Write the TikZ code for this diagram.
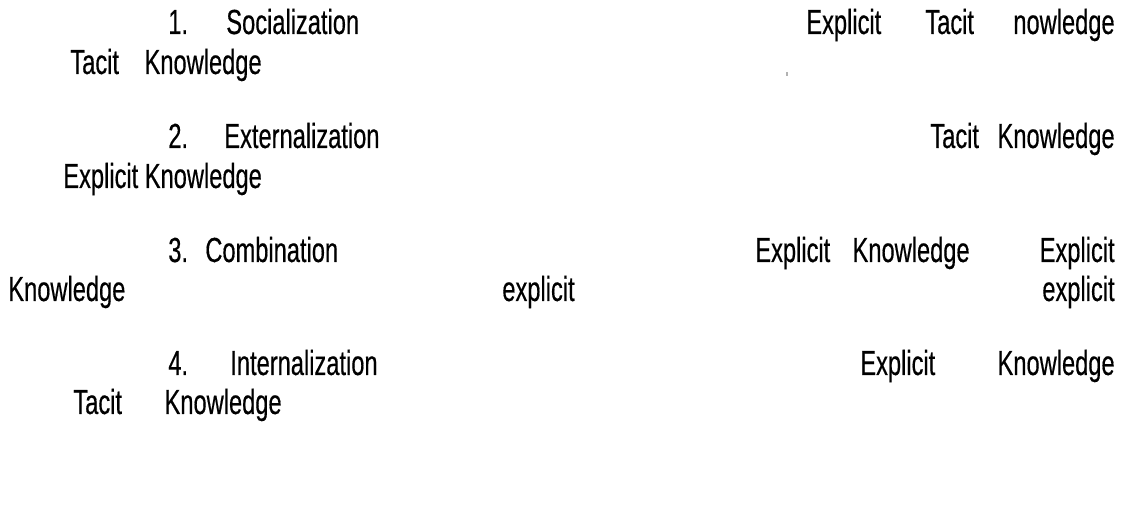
\documentclass[tikz,border=0pt]{standalone}
\usepackage{fontspec}
\setmainfont[FakeStretch=0.68,FakeBold=0.4]{Liberation Sans}
\usepackage{tikz}
\newcommand{\entryfont}{\fontsize{19.8}{24}\selectfont}
\tikzset{word/.style={anchor=base west, inner sep=0pt, font=\entryfont},
         wordr/.style={anchor=base east, inner sep=0pt, font=\entryfont}}

\begin{document}
\begin{tikzpicture}[x=0.02cm, y=-0.02cm]
    \path[use as bounding box] (0, 0) rectangle (1130, 516);

    % 1. Socialization
    \node[word] at (168, 34) (n1) {1.};
    \node[word] at (226, 34) (soc) {Socialization};
    \node[word] at (806, 34) (soce) {Explicit};
    \node[word] at (925, 34) (soct) {Tacit};
    \node[wordr] at (1115, 34) (sock) {nowledge};
    \node[word] at (70, 74) (soct2) {Tacit};
    \node[wordr] at (262, 74) (sock2) {Knowledge};
    \fill[gray!60] (786, 72) rectangle (788, 76);

    % 2. Externalization
    \node[word] at (168, 148) (n2) {2.};
    \node[word] at (224, 148) (ext) {Externalization};
    \node[word] at (930, 148) (extt) {Tacit};
    \node[wordr] at (1115, 148) (extk) {Knowledge};
    \node[word] at (63, 188) (extek) {Explicit Knowledge};

    % 3. Combination
    \node[word] at (168, 262) (n3) {3.};
    \node[word] at (205, 262) (com) {Combination};
    \node[word] at (755, 262) (come) {Explicit};
    \node[wordr] at (970, 262) (comk) {Knowledge};
    \node[wordr] at (1115, 262) (come2) {Explicit};
    \node[word] at (8, 301) (comk2) {Knowledge};
    \node[word] at (502, 301) (comx) {explicit};
    \node[wordr] at (1115, 301) (comx2) {explicit};

    % 4. Internalization
    \node[word] at (168, 375) (n4) {4.};
    \node[word] at (230, 375) (int) {Internalization};
    \node[word] at (860, 375) (inte) {Explicit};
    \node[wordr] at (1115, 375) (intk) {Knowledge};
    \node[word] at (73, 414) (intt) {Tacit};
    \node[wordr] at (282, 414) (intk2) {Knowledge};
\end{tikzpicture}
\end{document}
